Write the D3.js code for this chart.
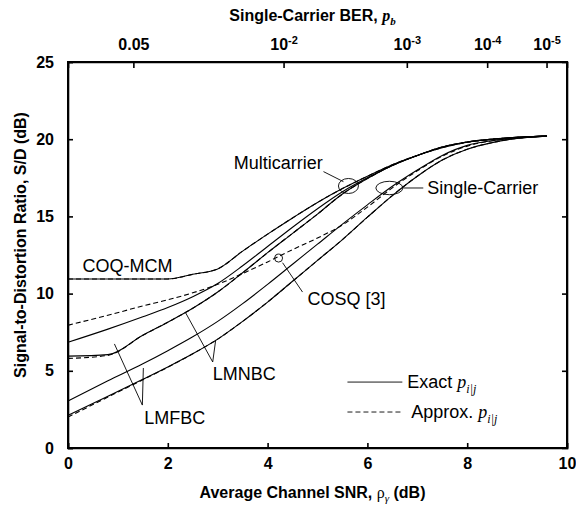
<!DOCTYPE html>
<html>
<head>
<meta charset="utf-8">
<script src="https://cdn.jsdelivr.net/npm/d3@7"></script>
<style>
    body { margin: 0; background: #fff; }
    svg text { font-family: "Liberation Sans", Arial, Helvetica, sans-serif; fill: #000; }
    .axis text { font-size: 16px; font-weight: bold; }
    .axis path, .axis line { stroke: #000; stroke-width: 1.6px; }
    .curve { fill: none; stroke: #000; stroke-width: 1.1px; }
    .note { font-size: 18px; }
    .lead { stroke: #000; stroke-width: 0.9px; fill: none; }
</style>
</head>
<body>
<svg id="chart" width="576" height="508"></svg>
<script>
// SNR grid (dB) shared by all curves
var snr = [0, 0.8, 1.5, 2, 2.5, 3, 3.5, 4, 4.5, 5, 5.5, 6, 6.5, 7, 7.5, 8, 8.5, 9, 9.6];

// multicarrier curves (S/D in dB)
var coqExact  = [10.95, 10.95, 10.95, 10.95, 11.25, 11.6, 12.75, 13.85, 14.9, 15.9, 16.8, 17.6, 18.35, 18.95, 19.45, 19.8, 20.0, 20.12, 20.2];
var coqApprox = [10.95, 10.95, 10.95, 10.95, 11.25, 11.6, 12.75, 13.85, 14.9, 15.9, 16.8, 17.6, 18.35, 18.95, 19.45, 19.8, 20.0, 20.12, 20.2];
var mcUpper   = [6.85, 7.7, 8.5, 9.1, 9.8, 10.65, 11.8, 13.05, 14.3, 15.5, 16.6, 17.5, 18.3, 18.95, 19.5, 19.82, 20.0, 20.12, 20.2];
var mcKinked  = [5.95, 6.05, 7.3, 8.15, 9.05, 10.1, 11.35, 12.65, 13.9, 15.15, 16.45, 17.45, 18.3, 18.95, 19.5, 19.82, 20.0, 20.12, 20.2];
var mcKinkedApprox = [5.8, 6.0, 7.3, 8.15, 9.05, 10.1, 11.35, 12.65, 13.9, 15.15, 16.45, 17.45, 18.3, 18.95, 19.5, 19.82, 20.0, 20.12, 20.2];

// single-carrier curves
var cosqApprox = [7.95, 8.6, 9.2, 9.6, 10.05, 10.6, 11.3, 12.05, 12.85, 13.6, 14.45, 15.6, 16.85, 17.95, 18.9, 19.55, 19.9, 20.08, 20.2];
var scUpper    = [3.05, 4.35, 5.45, 6.3, 7.2, 8.2, 9.35, 10.6, 11.9, 13.2, 14.5, 15.75, 16.95, 18.0, 18.95, 19.6, 19.9, 20.08, 20.2];
var scLower    = [2.12, 3.35, 4.45, 5.25, 6.1, 7.05, 8.2, 9.45, 10.8, 12.15, 13.5, 14.95, 16.35, 17.6, 18.65, 19.35, 19.78, 20.05, 20.2];
var scLowerApprox = [2.0, 3.3, 4.42, 5.23, 6.1, 7.05, 8.2, 9.45, 10.8, 12.15, 13.5, 14.95, 16.35, 17.6, 18.65, 19.35, 19.78, 20.05, 20.2];

// axes
var xTicks = [0, 2, 4, 6, 8, 10];
var yTicks = [0, 5, 10, 15, 20, 25];
var berTickSnr = [1.31, 4.32, 6.79, 8.40, 9.59];
var berTickBase = ["0.05", "10", "10", "10", "10"];
var berTickExp = ["", "-2", "-3", "-4", "-5"];

var svg = d3.select("#chart");
var margin = {top: 62, right: 9, bottom: 60, left: 68},
    width = 576 - margin.left - margin.right,
    height = 508 - margin.top - margin.bottom;

var x = d3.scaleLinear().domain([0, 10]).range([0, width]);
var y = d3.scaleLinear().domain([0, 25]).range([height, 0]);

var g = svg.append("g")
    .attr("transform", "translate(" + margin.left + "," + margin.top + ")");

// bottom axis
g.append("g")
    .attr("class", "axis")
    .attr("transform", "translate(0," + height + ")")
    .call(d3.axisBottom(x).tickValues(xTicks).tickSize(-5).tickPadding(10).tickFormat(d3.format("d")));

// left axis
g.append("g")
    .attr("class", "axis")
    .call(d3.axisLeft(y).tickValues(yTicks).tickSize(-5).tickPadding(14).tickFormat(d3.format("d")));

// right axis, ticks only
g.append("g")
    .attr("class", "axis")
    .attr("transform", "translate(" + width + ",0)")
    .call(d3.axisRight(y).tickValues([5, 10, 15, 20]).tickSize(-5).tickFormat(""));

// top axis: single-carrier BER
var berAxis = g.append("g")
    .attr("class", "axis")
    .call(d3.axisTop(x).tickValues(berTickSnr).tickSize(-6).tickPadding(12).tickFormat(""));
berAxis.selectAll(".tick text").each(function(d, i) {
    var t = d3.select(this);
    t.append("tspan").text(berTickBase[i]);
    if (berTickExp[i]) {
        t.append("tspan").attr("dy", -6).style("font-size", "11px").text(berTickExp[i]);
    }
});

// frame
g.append("rect")
    .attr("width", width).attr("height", height)
    .attr("fill", "none").attr("stroke", "#000").attr("stroke-width", 2);

// axis titles
var xt = svg.append("text")
    .attr("x", margin.left + width / 2 - 5).attr("y", 498)
    .attr("text-anchor", "middle")
    .style("font-size", "16px").style("font-weight", "bold")
    .text("Average Channel SNR, ");
xt.append("tspan").style("font-family", "'Liberation Serif', serif").style("font-weight", "normal").text("\u03c1");
xt.append("tspan").attr("dy", 4).style("font-family", "'Liberation Serif', serif").style("font-style", "italic")
    .style("font-weight", "normal").style("font-size", "11px").text("\u03b3");
xt.append("tspan").attr("dy", -4).text(" (dB)");

var tt = svg.append("text")
    .attr("x", margin.left + width / 2 - 5).attr("y", 21)
    .attr("text-anchor", "middle")
    .style("font-size", "16px").style("font-weight", "bold")
    .text("Single-Carrier BER, ");
tt.append("tspan").style("font-family", "'Liberation Serif', serif").style("font-style", "italic").text("p");
tt.append("tspan").attr("dy", 4).style("font-family", "'Liberation Serif', serif").style("font-style", "italic")
    .style("font-size", "11px").text("b");

svg.append("text")
    .attr("transform", "translate(26," + (margin.top + height / 2 - 10) + ") rotate(-90)")
    .attr("text-anchor", "middle")
    .style("font-size", "16px").style("font-weight", "bold")
    .text("Signal-to-Distortion Ratio, S/D (dB)");

// curves
var line = d3.line()
    .x(function(d, i) { return x(snr[i]); })
    .y(function(d) { return y(d); })
    .curve(d3.curveMonotoneX);

var solids = [coqExact, mcUpper, mcKinked, scUpper, scLower];
var dashes = [coqApprox, mcKinkedApprox, cosqApprox, scLowerApprox];

g.selectAll(".solid").data(solids).enter().append("path")
    .attr("class", "curve solid")
    .attr("d", line);

g.selectAll(".dashed").data(dashes).enter().append("path")
    .attr("class", "curve dashed")
    .attr("stroke-dasharray", "5,3")
    .attr("d", line);

// annotations (data coordinates)
function note(tx, ty, str) {
    return g.append("text").attr("class", "note")
        .attr("x", x(tx)).attr("y", y(ty)).attr("dy", "0.35em").text(str);
}
function lead(pts) {
    g.append("path").attr("class", "lead")
        .attr("d", d3.line().x(function(p) { return x(p[0]); }).y(function(p) { return y(p[1]); })(pts));
}

note(0.29, 11.8, "COQ-MCM");
note(3.32, 18.5, "Multicarrier");
lead([[5.12, 17.9], [5.52, 17.25]]);
g.append("ellipse").attr("class", "lead")
    .attr("cx", x(5.62)).attr("cy", y(16.97)).attr("rx", 10).attr("ry", 7.5);

note(7.2, 16.84, "Single-Carrier");
lead([[6.72, 16.84], [7.12, 16.84]]);
g.append("ellipse").attr("class", "lead")
    .attr("cx", x(6.44)).attr("cy", y(16.84)).attr("rx", 13.5).attr("ry", 6.7);

note(4.8, 9.7, "COSQ [3]");
g.append("circle").attr("class", "lead")
    .attr("cx", x(4.22)).attr("cy", y(12.3)).attr("r", 4);
lead([[4.3, 12.0], [4.7, 10.1]]);

note(2.9, 4.8, "LMNBC");
lead([[2.35, 8.8], [2.9, 5.57], [2.96, 7.0]]);

note(1.53, 1.95, "LMFBC");
lead([[0.93, 6.74], [1.49, 2.78], [1.51, 5.18]]);

// legend
lead([[5.6, 4.27], [6.7, 4.27]]);
g.append("path").attr("class", "lead").attr("stroke-dasharray", "5,3")
    .attr("d", d3.line()([[x(5.6), y(2.33)], [x(6.7), y(2.33)]]));

function legendText(tx, ty, str) {
    var t = note(tx, ty, str);
    t.append("tspan").style("font-family", "'Liberation Serif', serif").style("font-style", "italic").text("p");
    t.append("tspan").attr("dy", 5).style("font-family", "'Liberation Serif', serif").style("font-style", "italic")
        .style("font-size", "12px").text("i|j");
}
legendText(6.8, 4.27, "Exact ");
legendText(6.88, 2.33, "Approx. ");
</script>
</body>
</html>
